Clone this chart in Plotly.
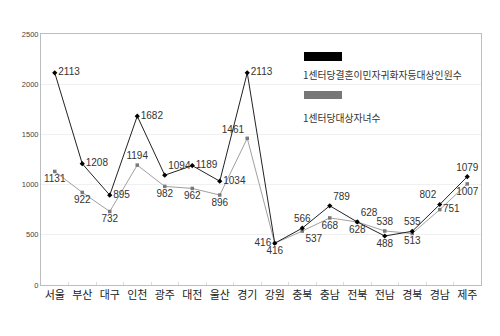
import plotly.graph_objects as go

# Regions (x-axis categories)
regions = ["서울", "부산", "대구", "인천", "광주", "대전", "울산", "경기",
           "강원", "충북", "충남", "전북", "전남", "경북", "경남", "제주"]

# Persons per center (marriage immigrants, naturalized citizens, etc.)
persons_per_center = [2113, 1208, 895, 1682, 1094, 1189, 1034, 2113,
                      416, 566, 789, 628, 488, 535, 802, 1079]

# Children per center
children_per_center = [1131, 922, 732, 1194, 982, 962, 896, 1461,
                       416, 537, 668, 628, 538, 513, 751, 1007]

y_ticks = [0, 500, 1000, 1500, 2000, 2500]

persons_pos = ["middle right", "middle right", "middle right", "middle right",
               "top right", "middle right", "middle right", "middle right",
               "middle left", "top center", "top right", "top right",
               "bottom center", "top center", "top left", "top center"]
children_pos = ["bottom center", "bottom center", "bottom center", "top center",
                "bottom center", "bottom center", "bottom center", "top left",
                "bottom center", "bottom right", "bottom center", "bottom center",
                "top center", "bottom center", "middle right", "bottom center"]

label_font = dict(family="Liberation Sans, Arial, sans-serif", size=10, color="#333333")

fig = go.Figure()

fig.add_trace(go.Scatter(
    x=regions, y=children_per_center,
    mode="lines+markers+text",
    line=dict(color="#a0a0a0", width=1),
    marker=dict(symbol="square", size=3.5, color="#7a7a7a"),
    text=[str(v) for v in children_per_center],
    textposition=children_pos,
    textfont=label_font,
    cliponaxis=False,
    showlegend=False,
))

fig.add_trace(go.Scatter(
    x=regions, y=persons_per_center,
    mode="lines+markers+text",
    line=dict(color="#222222", width=1),
    marker=dict(symbol="diamond", size=4, color="#000000"),
    text=[str(v) for v in persons_per_center],
    textposition=persons_pos,
    textfont=label_font,
    cliponaxis=False,
    showlegend=False,
))

# Hand-built legend box in the upper right of the plot area
def px_x(p):
    return (p - 41) / 440.0

def px_y(p):
    return (285 - p) / 251.0

shapes = [
    dict(type="rect", xref="paper", yref="paper",
         x0=px_x(298), x1=px_x(468), y0=px_y(128), y1=px_y(42),
         fillcolor="white", line=dict(width=0), layer="between"),
    dict(type="rect", xref="paper", yref="paper",
         x0=px_x(304), x1=px_x(342), y0=px_y(61), y1=px_y(52),
         fillcolor="#000000", line=dict(width=0)),
    dict(type="rect", xref="paper", yref="paper",
         x0=px_x(304), x1=px_x(342), y0=px_y(99), y1=px_y(91),
         fillcolor="#777777", line=dict(width=0)),
]

legend_font = dict(family="Noto Sans CJK KR", size=9.8, color="#333333")
annotations = [
    dict(xref="paper", yref="paper", x=px_x(301), y=px_y(75),
         xanchor="left", yanchor="middle", showarrow=False,
         text="1센터당결혼이민자귀화자등대상인원수", font=legend_font),
    dict(xref="paper", yref="paper", x=px_x(301), y=px_y(118),
         xanchor="left", yanchor="middle", showarrow=False,
         text="1센터당대상자녀수", font=legend_font),
]

fig.update_layout(
    width=500, height=336,
    margin=dict(l=41, r=19, t=34, b=51),
    paper_bgcolor="white", plot_bgcolor="white",
    shapes=shapes, annotations=annotations,
    showlegend=False,
)

fig.update_xaxes(
    type="category", range=[-0.5, len(regions) - 0.5],
    showline=True, linecolor="#bdbdbd", linewidth=1, mirror=True,
    showgrid=False, tickangle=0,
    ticks="inside", tickson="boundaries", ticklen=3, tickcolor="#dddddd",
    tickfont=dict(family="Noto Sans CJK KR", size=11, color="#222222"),
)
fig.update_yaxes(
    range=[0, 2500], tickvals=y_ticks,
    showline=True, linecolor="#bdbdbd", linewidth=1, mirror=True,
    showgrid=True, gridcolor="#f0f0f0", gridwidth=1,
    zeroline=False, ticks="",
    tickfont=dict(family="Liberation Sans, Arial, sans-serif", size=7.5, color="#444444"),
)

fig.write_html("out.html")
